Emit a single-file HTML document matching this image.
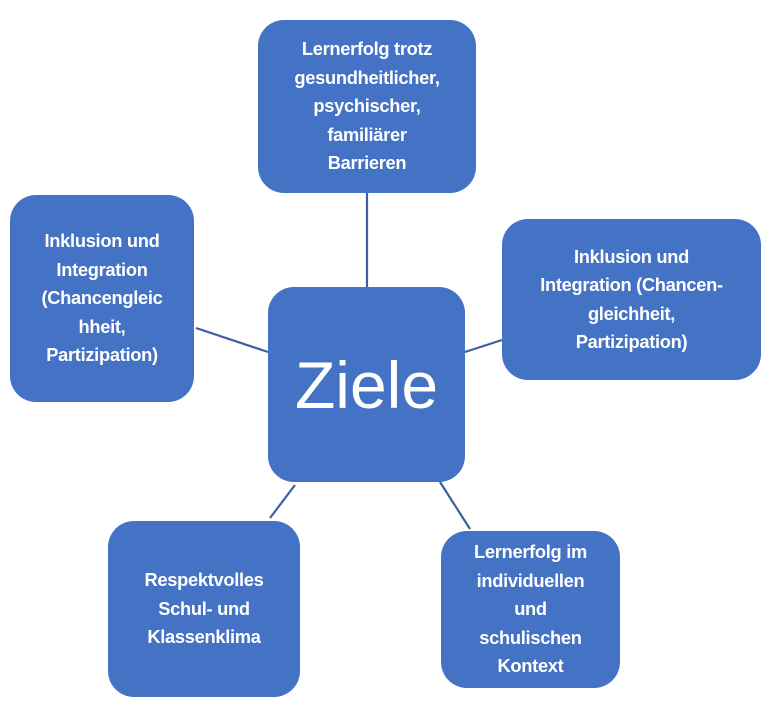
<!DOCTYPE html>
<html><head><meta charset="utf-8"><style>
body{margin:0;width:774px;height:709px;background:#fff;position:relative;overflow:hidden;font-family:"Liberation Sans",sans-serif}
.b{position:absolute;background:#4472C4;border-radius:26px;color:#fff;font-weight:bold;font-size:18.3px;line-height:28.5px;text-align:center;display:flex;align-items:center;justify-content:center;white-space:nowrap;letter-spacing:-0.3px}
svg{position:absolute;left:0;top:0}
</style></head><body>
<svg width="774" height="709"><g stroke="#3C5FA3" stroke-width="2.2">
<line x1="367" y1="193" x2="367" y2="287"/>
<line x1="196" y1="328" x2="268" y2="352"/>
<line x1="465" y1="352" x2="502" y2="340"/>
<line x1="295" y1="485" x2="270" y2="518"/>
<line x1="440" y1="482" x2="470" y2="529"/>
</g></svg>
<div class="b" style="left:258px;top:20px;width:218px;height:173px">Lernerfolg trotz<br>gesundheitlicher,<br>psychischer,<br>familiärer<br>Barrieren</div>
<div class="b" style="left:10px;top:195px;width:184px;height:207px">Inklusion und<br>Integration<br>(Chancengleic<br>hheit,<br>Partizipation)</div>
<div class="b" style="left:502px;top:219px;width:259px;height:161px">Inklusion und<br>Integration (Chancen-<br>gleichheit,<br>Partizipation)</div>
<div class="b" style="left:268px;top:287px;width:197px;height:195px;font-weight:normal;font-size:66px;letter-spacing:0;line-height:66px">Ziele</div>
<div class="b" style="left:108px;top:521px;width:192px;height:176px">Respektvolles<br>Schul- und<br>Klassenklima</div>
<div class="b" style="left:441px;top:531px;width:179px;height:157px">Lernerfolg im<br>individuellen<br>und<br>schulischen<br>Kontext</div>
</body></html>
